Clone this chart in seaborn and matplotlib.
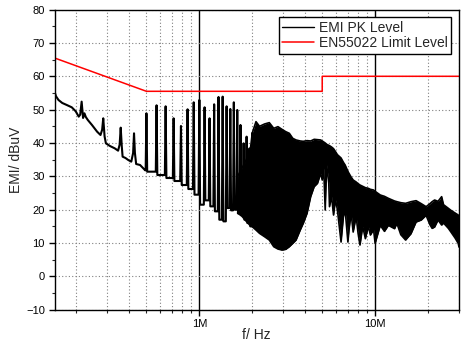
import numpy as np
import pandas as pd
import matplotlib
matplotlib.use("Agg")
import matplotlib.pyplot as plt
from matplotlib.ticker import FixedLocator, FixedFormatter, LogLocator, NullFormatter, MultipleLocator
import seaborn as sns

# ---- Low-frequency part of the peak scan (MHz, dBuV) ----
lf_freq_mhz = [0.150, 0.153, 0.158, 0.166, 0.176, 0.188, 0.198, 0.206, 0.210, 0.214,
               0.218, 0.222, 0.226, 0.232, 0.245, 0.262, 0.274, 0.280, 0.284, 0.289,
               0.294, 0.310, 0.330, 0.345, 0.352, 0.357, 0.362, 0.366, 0.380, 0.394,
               0.410, 0.420, 0.425, 0.430, 0.437, 0.460, 0.480, 0.492]
lf_level = [55.4, 54.0, 52.9, 52.0, 51.4, 50.7, 49.5, 47.9, 48.5, 52.4,
            47.5, 48.9, 47.8, 46.9, 45.4, 43.4, 42.4, 44.0, 47.4, 42.0,
            39.9, 39.1, 38.4, 37.7, 39.5, 44.6, 39.0, 35.9, 35.5, 34.9,
            34.4, 37.0, 42.9, 37.0, 33.7, 33.4, 32.4, 31.8]

# ---- Switching harmonics (MHz): peak level and floor level after each line ----
harm_freq_mhz = [0.500, 0.571, 0.643, 0.714, 0.786, 0.857, 0.929, 1.000, 1.071, 1.143,
                 1.214, 1.286, 1.357, 1.429, 1.500, 1.571, 1.643, 1.714, 1.786, 1.857,
                 1.929, 2.000]
harm_peak = [48.9, 51.3, 51.0, 47.4, 45.1, 50.1, 52.2, 52.9, 50.7, 47.4,
             51.6, 53.8, 53.9, 51.0, 50.2, 52.2, 49.9, 45.4, 39.9, 41.9,
             38.4, 43.0]
harm_floor = [31.4, 30.4, 29.5, 28.6, 27.4, 26.2, 24.5, 21.5, 22.8, 21.0,
              19.5, 17.0, 16.5, 20.5, 19.8, 20.0, 18.9, 18.5, 17.0, 16.0,
              15.0, 14.9]

# ---- Dense part of the scan: upper and lower edge of the noise band ----
band_freq_mhz = [1.65, 1.75, 1.85, 1.95, 2.00, 2.10, 2.20, 2.35, 2.50, 2.65, 2.80, 2.95,
                 3.10, 3.25, 3.40, 3.55, 3.75, 3.90, 4.10, 4.30, 4.50, 4.70,
                 4.90, 5.00, 5.10, 5.20, 5.30, 5.45, 5.50, 5.65, 5.80, 5.95,
                 6.10, 6.40, 6.60, 6.75, 7.00, 7.10, 7.30, 7.50, 7.80, 8.00,
                 8.20, 8.50, 8.80, 9.15, 9.40, 9.80, 10.0, 10.7, 11.3, 11.9,
                 12.9, 13.3, 14.0, 14.9, 16.0, 17.1, 18.3, 19.5, 20.5, 21.1,
                 21.8, 22.8, 23.9, 24.5, 26.1, 27.0, 28.5, 29.7, 30.0]
band_upper = [30.0, 32.5, 35.0, 38.0, 43.0, 46.4, 45.0, 45.7, 46.1, 44.4, 44.9, 44.1,
              43.4, 42.9, 41.4, 40.9, 40.6, 40.5, 40.7, 40.6, 41.1, 41.0,
              40.9, 40.6, 40.3, 40.0, 39.6, 39.3, 39.2, 38.8, 38.3, 37.4,
              36.5, 35.5, 34.2, 33.4, 31.5, 30.9, 29.8, 28.9, 28.3, 27.8,
              27.4, 27.0, 26.6, 26.4, 26.1, 25.9, 25.5, 24.4, 24.0, 23.4,
              22.6, 22.4, 22.1, 21.9, 22.4, 22.7, 21.8, 20.9, 21.8, 22.4,
              22.9, 22.5, 23.9, 21.5, 20.4, 19.8, 19.0, 18.4, 18.0]
band_lower = [19.0, 18.0, 16.5, 15.2, 14.9, 13.9, 12.9, 11.9, 10.9, 8.9, 8.2, 7.9,
              8.1, 8.9, 9.9, 10.9, 13.9, 15.9, 18.9, 23.9, 26.9, 27.9,
              30.9, 28.9, 32.5, 19.9, 33.5, 27.9, 20.9, 24.0, 18.4, 23.0,
              20.0, 10.3, 17.9, 20.0, 10.3, 13.9, 19.0, 13.3, 18.0, 12.9,
              9.4, 15.0, 11.3, 15.0, 12.4, 14.0, 9.9, 15.3, 13.5, 15.3,
              14.3, 15.9, 12.5, 10.9, 12.8, 16.3, 16.9, 18.3, 15.5, 14.4,
              14.8, 16.9, 15.4, 16.0, 14.4, 13.3, 11.5, 9.9, 8.8]

# ---- EN55022 limit (MHz, dBuV) ----
limit_freq_mhz = [0.15, 0.50, 5.0, 5.0, 30.0]
limit_level = [65.5, 55.5, 55.5, 60.0, 60.0]

x_tick_values = [1e6, 1e7]
x_tick_labels = ["1M", "10M"]

# Assemble the peak trace: low-frequency sweep followed by narrow harmonic lines
line_halfwidth = 0.010
trace_f = list(lf_freq_mhz)
trace_l = list(lf_level)
prev_floor = lf_level[-1]
for f, pk, fl in zip(harm_freq_mhz, harm_peak, harm_floor):
    trace_f += [f * (1 - line_halfwidth), f, f * (1 + line_halfwidth)]
    trace_l += [prev_floor, pk, fl]
    prev_floor = fl
trace = pd.DataFrame({"freq": np.array(trace_f) * 1e6, "level": trace_l})
band = pd.DataFrame({"freq": np.array(band_freq_mhz) * 1e6,
                     "upper": band_upper, "lower": band_lower})
limit = pd.DataFrame({"freq": np.array(limit_freq_mhz) * 1e6, "level": limit_level})

sns.set_style("ticks")
plt.rcParams["font.family"] = ["Liberation Sans", "DejaVu Sans"]

fig = plt.figure(figsize=(4.62, 3.43), dpi=100)
ax = fig.add_axes([0.118, 0.097, 0.8755, 0.875])
ax.set_xscale("log")

grid_dots = (0, (1, 2))
ax.grid(which="major", axis="y", color="#808080", lw=0.8, ls=grid_dots)
ax.grid(which="minor", axis="x", color="#808080", lw=0.8, ls=grid_dots)
ax.grid(which="major", axis="x", color="black", lw=1.0, ls="-")
ax.set_axisbelow(True)

sns.lineplot(data=trace, x="freq", y="level", ax=ax, color="black", lw=1.5,
             sort=False, estimator=None, label="EMI PK Level")
ax.fill_between(band["freq"], band["lower"], band["upper"], color="black", lw=0)
sns.lineplot(data=band, x="freq", y="upper", ax=ax, color="black", lw=1.2,
             sort=False, estimator=None)
sns.lineplot(data=band, x="freq", y="lower", ax=ax, color="black", lw=1.2,
             sort=False, estimator=None)
sns.lineplot(data=limit, x="freq", y="level", ax=ax, color="#ff0000", lw=1.1,
             sort=False, estimator=None, label="EN55022 Limit Level")

ax.set_xlim(0.15e6, 30e6)
ax.set_ylim(-10, 80)
ax.xaxis.set_major_locator(FixedLocator(x_tick_values))
ax.xaxis.set_major_formatter(FixedFormatter(x_tick_labels))
ax.xaxis.set_minor_locator(LogLocator(base=10, subs=np.arange(2, 10)))
ax.xaxis.set_minor_formatter(NullFormatter())
ax.yaxis.set_major_locator(MultipleLocator(10))
ax.yaxis.set_minor_locator(MultipleLocator(5))

ax.tick_params(which="major", direction="out", length=4, width=1, labelsize=8,
               colors="black", pad=3)
ax.tick_params(which="minor", direction="out", length=2.5, width=0.8)
for s in ax.spines.values():
    s.set_visible(True)
    s.set_color("black")
    s.set_linewidth(1.0)

ax.set_xlabel("f/ Hz", fontsize=10, labelpad=-1)
ax.set_ylabel("EMI/ dBuV", fontsize=10, labelpad=2)

handles, labels = ax.get_legend_handles_labels()
leg = ax.legend(handles, labels, loc="upper right", fontsize=10, frameon=True,
                fancybox=False, framealpha=1, edgecolor="black", borderpad=0.25,
                labelspacing=0.1, handlelength=2.3, handletextpad=0.35,
                borderaxespad=0.55)
leg.get_frame().set_linewidth(1.0)
leg.get_lines()[0].set_linewidth(1.0)

fig.savefig("out.png", dpi=100)
